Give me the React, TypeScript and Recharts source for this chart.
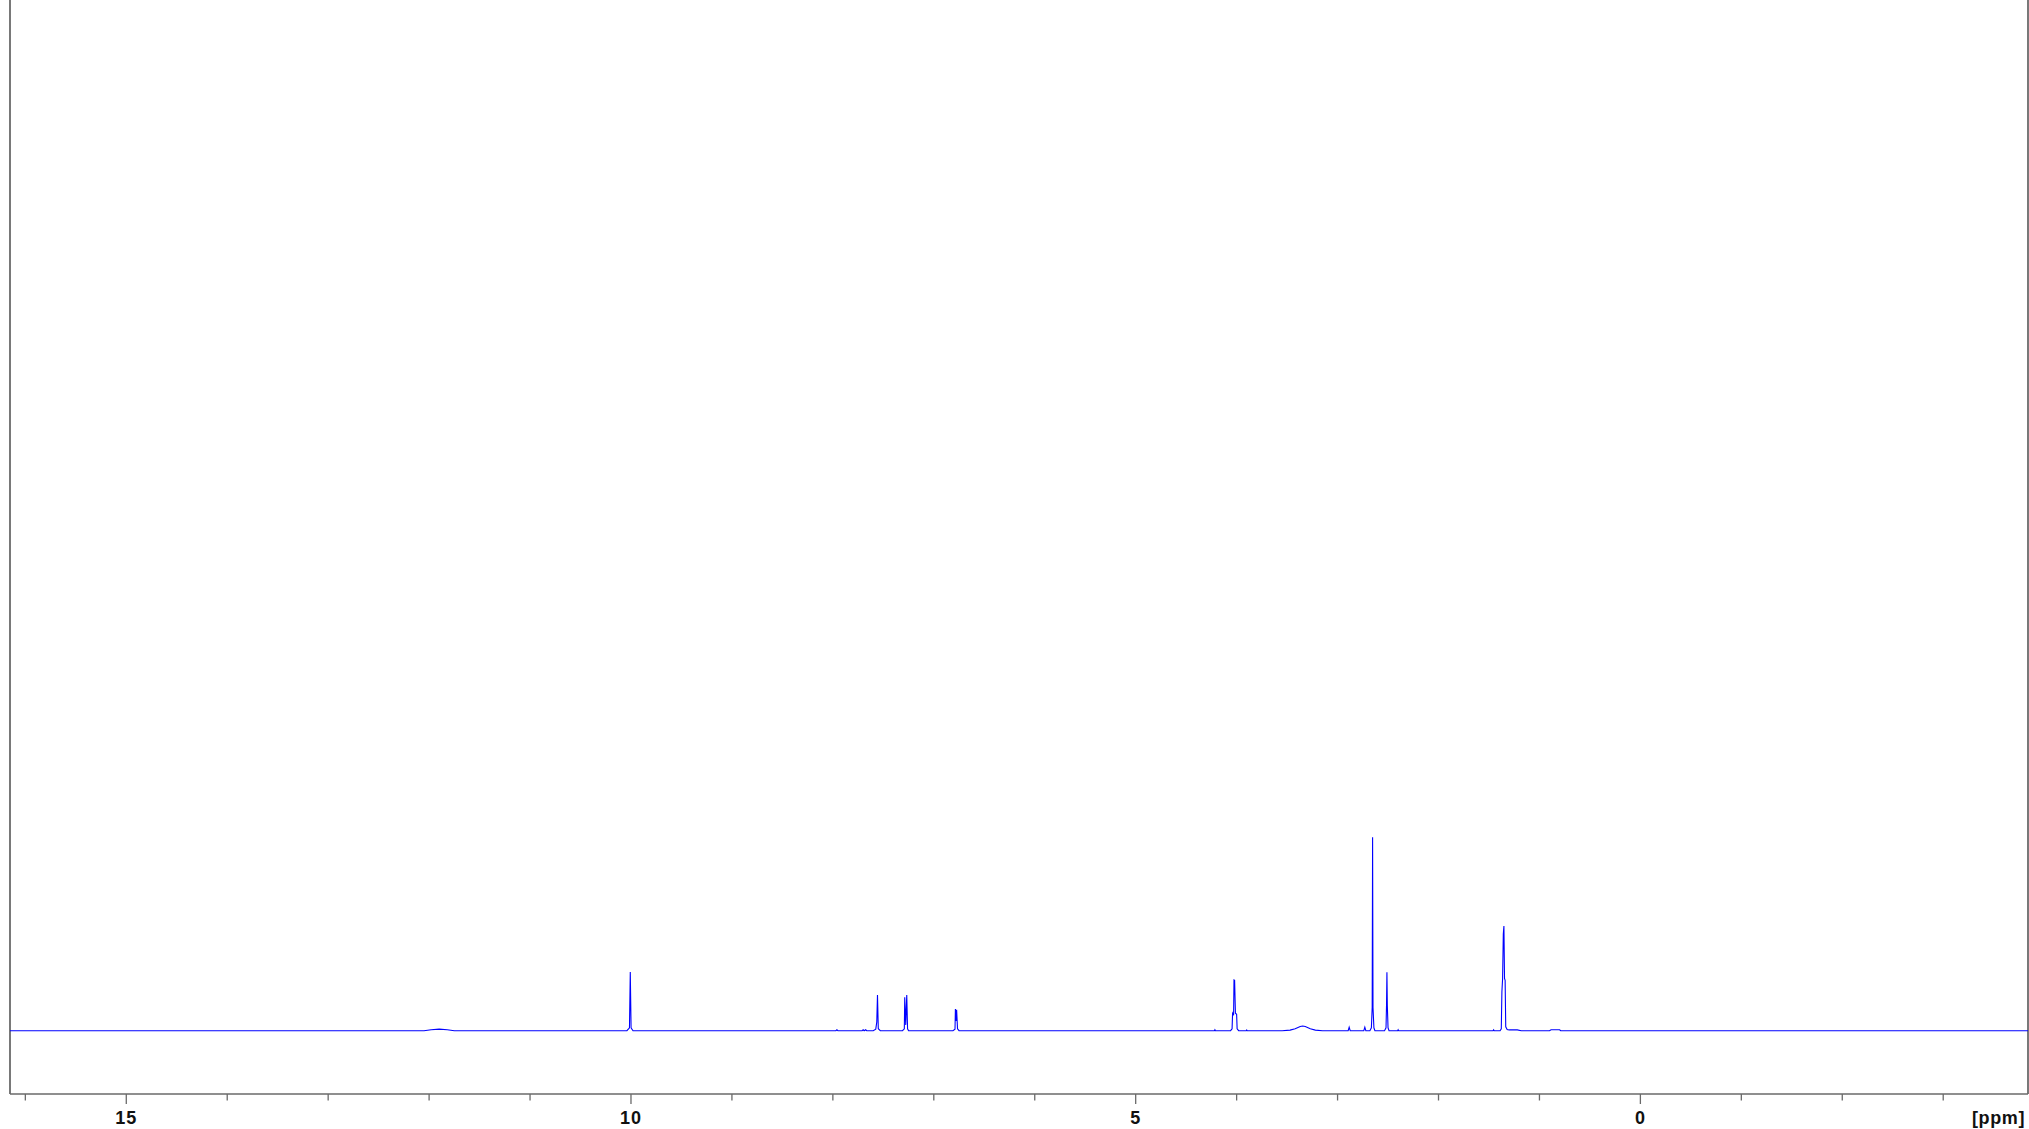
import React from "react";
import { LineChart, Line, XAxis, YAxis, Label, ReferenceLine } from "recharts";

// Spectrum pieces: [ppm, relative intensity] (tallest peak = 100)
const baselineStart: [number, number][] = [[16.152, 0]];
const broadNH: [number, number][] = [[12.05, 0], [11.98, 0.5], [11.9, 0.8], [11.82, 0.5], [11.75, 0]];
const peak10: [number, number][] = [[10.04, 0], [10.015, 1.5], [10.007, 30.4], [9.999, 1.5], [9.98, 0]];
const smallAromatic: [number, number][] = [[7.97, 0], [7.96, 0.5], [7.95, 0], [7.71, 0], [7.7, 0.5], [7.69, 0], [7.675, 0.5], [7.665, 0]];
const peak756: [number, number][] = [[7.6, 0], [7.575, 0.8], [7.565, 4.5], [7.558, 18.5], [7.55, 1], [7.53, 0]];
const doublet728: [number, number][] = [[7.31, 0], [7.292, 1], [7.288, 17.3], [7.278, 3], [7.268, 18.5], [7.26, 1], [7.25, 0]];
const doublet678: [number, number][] = [[6.81, 0], [6.79, 0.8], [6.786, 11.2], [6.78, 5], [6.774, 10.8], [6.765, 1], [6.75, 0]];
const quartet402: [number, number][] = [[4.22, 0], [4.215, 0.5], [4.21, 0], [4.06, 0], [4.045, 1], [4.04, 9], [4.03, 8], [4.026, 26.2], [4.02, 26], [4.012, 9], [4.0, 8.5], [3.995, 1], [3.98, 0], [3.905, 0], [3.9, 0.4], [3.895, 0]];
const water335: [number, number][] = [[3.55, 0], [3.47, 0.3], [3.42, 1], [3.37, 2.2], [3.346, 2.4], [3.32, 2.2], [3.27, 1], [3.22, 0.3], [3.15, 0]];
const small29: [number, number][] = [[2.895, 0], [2.885, 1.8], [2.875, 0], [2.74, 0], [2.73, 1.8], [2.72, 0]];
const peak265: [number, number][] = [[2.68, 0], [2.665, 1.5], [2.657, 12], [2.653, 100], [2.649, 12], [2.64, 1.5], [2.63, 0]];
const peak251: [number, number][] = [[2.535, 0], [2.52, 1.5], [2.515, 13], [2.511, 30.2], [2.507, 13], [2.5, 1.5], [2.49, 0], [2.405, 0], [2.4, 0.5], [2.395, 0]];
const triplet135: [number, number][] = [[1.46, 0], [1.454, 0.5], [1.448, 0], [1.39, 0], [1.378, 1], [1.372, 20], [1.365, 27], [1.358, 50], [1.352, 54.1], [1.346, 27], [1.34, 26], [1.334, 2], [1.32, 0.6], [1.3, 0.4], [1.22, 0.4], [1.18, 0]];
const small085: [number, number][] = [[0.9, 0], [0.885, 0.5], [0.8, 0.5], [0.79, 0]];
const baselineEnd: [number, number][] = [[-3.84, 0]];

const spectrumPieces = [
  baselineStart, broadNH, peak10, smallAromatic, peak756, doublet728, doublet678,
  quartet402, water335, small29, peak265, peak251, triplet135, small085, baselineEnd,
];

const xDomain: [number, number] = [-3.84, 16.152];
const yDomain: [number, number] = [-32.73, 532.9];
const xTicks = [16, 15, 14, 13, 12, 11, 10, 9, 8, 7, 6, 5, 4, 3, 2, 1, 0, -1, -2, -3];
const labeledTicks = [15, 10, 5, 0];
const unitLabel = "[ppm]";

const data = spectrumPieces.flat().map(([ppm, intensity]) => ({ ppm, intensity }));

const AXIS_COLOR = "#6a6a6a";
const FONT = "'Liberation Sans', Arial, sans-serif";

const Tick = (props: any) => {
  const { x, y, payload } = props;
  const v = payload.value;
  const major = labeledTicks.includes(v);
  return (
    <g>
      <line x1={x} x2={x} y1={y} y2={y + (major ? 10 : 6.5)} stroke={AXIS_COLOR} strokeWidth={1.3} />
      {major && (
        <text x={x} y={y + 30} textAnchor="middle" fontFamily={FONT} fontWeight="bold" fontSize={18} letterSpacing={1} fill="#111">
          {String(v)}
        </text>
      )}
    </g>
  );
};

export default function App() {
  return (
    <div style={{ position: "absolute", left: 0, top: 0, width: 2029, height: 1129, background: "#fff" }}>
      <LineChart width={2029} height={1129} data={data} margin={{ top: 0, right: 1, bottom: 0, left: 10 }}>
        <XAxis
          dataKey="ppm"
          type="number"
          reversed
          domain={xDomain}
          allowDataOverflow
          ticks={xTicks}
          interval={0}
          height={35}
          tickSize={0}
          tickMargin={0}
          tickLine={false}
          tick={<Tick />}
          axisLine={{ stroke: AXIS_COLOR, strokeWidth: 1.6 }}
        >
          <Label
            content={(p: any) => {
              const vb = p.viewBox || { x: 10, y: 1094, width: 2018, height: 35 };
              return (
                <text x={vb.x + vb.width - 3} y={vb.y + 30} textAnchor="end" fontFamily={FONT} fontWeight="bold" fontSize={18} letterSpacing={0.6} fill="#111">
                  {unitLabel}
                </text>
              );
            }}
          />
        </XAxis>
        <YAxis yAxisId="l" hide domain={yDomain} allowDataOverflow />
        <ReferenceLine yAxisId="l" x={xDomain[1]} stroke={AXIS_COLOR} strokeWidth={1.8} ifOverflow="visible" />
        <ReferenceLine yAxisId="l" x={xDomain[0]} stroke={AXIS_COLOR} strokeWidth={1.8} ifOverflow="visible" />
        <Line yAxisId="l" dataKey="intensity" type="linear" stroke="#0000ff" strokeWidth={1.1} dot={false} isAnimationActive={false} />
      </LineChart>
    </div>
  );
}
